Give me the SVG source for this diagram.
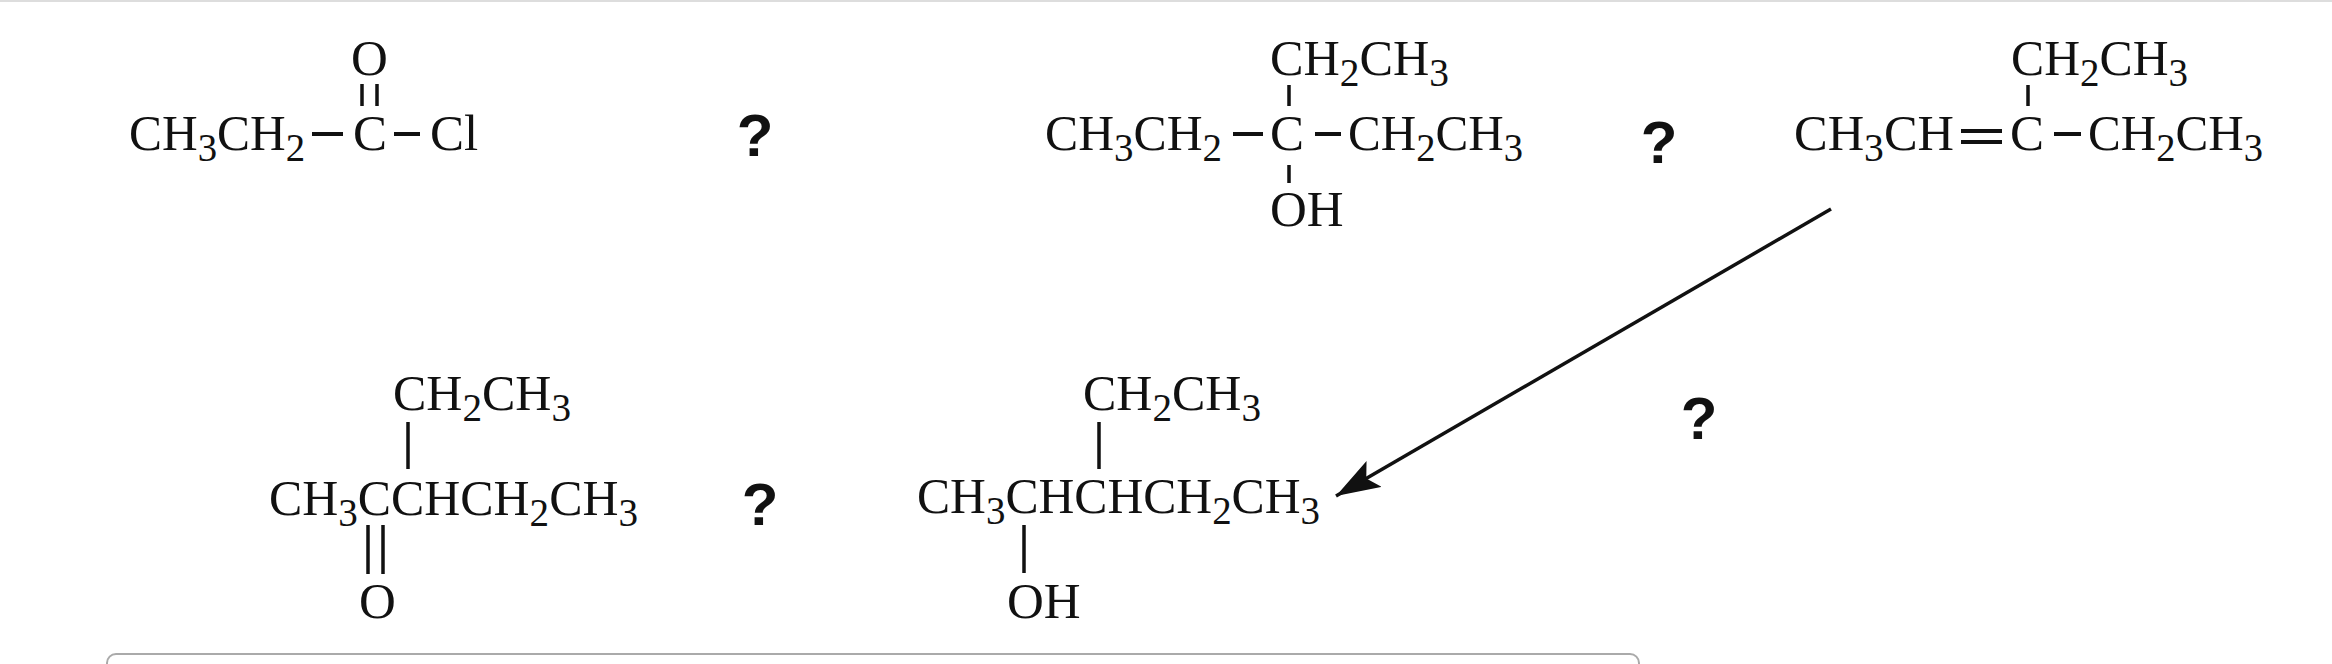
<svg xmlns="http://www.w3.org/2000/svg" width="2332" height="664" viewBox="0 0 2332 664">
<style>
text{font-family:"Liberation Serif","Times New Roman",serif;font-size:51px;fill:#111}
.s{font-size:40px}
.q{font-family:"Liberation Sans",Arial,sans-serif;font-weight:bold;font-size:60px;text-anchor:middle}
.b{stroke:#111;stroke-width:4;fill:none}
.v{stroke:#111;stroke-width:3.5;fill:none}
</style>
<defs>
<marker id="ah" markerUnits="userSpaceOnUse" markerWidth="50" markerHeight="40" refX="44" refY="15" orient="auto">
<path d="M0,0 L44,15 L0,30 L9,15 Z" fill="#111"/>
</marker>
</defs>
<rect x="0" y="0" width="2332" height="664" fill="#fff"/>
<rect x="0" y="0" width="2332" height="2" fill="#ddd"/>
<rect x="107" y="654" width="1532" height="30" rx="9" fill="none" stroke="#aaa" stroke-width="2"/>

<g id="m1">
<text x="129" y="150" textLength="176" lengthAdjust="spacingAndGlyphs">CH<tspan class="s" dy="11">3</tspan><tspan dy="-11">CH</tspan><tspan class="s" dy="11">2</tspan></text>
<line class="b" x1="312" y1="134" x2="343" y2="134"/>
<text x="353" y="150">C</text>
<line class="b" x1="394" y1="134" x2="420" y2="134"/>
<text x="430" y="150">Cl</text>
<text x="351" y="75">O</text>
<line class="v" x1="362" y1="84" x2="362" y2="106"/>
<line class="v" x1="377" y1="84" x2="377" y2="106"/>
</g>
<g id="q1"><text class="q" x="755" y="156">?</text></g>

<g id="m2">
<text x="1045" y="150" textLength="177" lengthAdjust="spacingAndGlyphs">CH<tspan class="s" dy="11">3</tspan><tspan dy="-11">CH</tspan><tspan class="s" dy="11">2</tspan></text>
<line class="b" x1="1233" y1="134" x2="1263" y2="134"/>
<text x="1270" y="150">C</text>
<line class="b" x1="1315" y1="134" x2="1341" y2="134"/>
<text x="1348" y="150" textLength="175" lengthAdjust="spacingAndGlyphs">CH<tspan class="s" dy="11">2</tspan><tspan dy="-11">CH</tspan><tspan class="s" dy="11">3</tspan></text>
<text x="1270" y="75" textLength="179" lengthAdjust="spacingAndGlyphs">CH<tspan class="s" dy="11">2</tspan><tspan dy="-11">CH</tspan><tspan class="s" dy="11">3</tspan></text>
<line class="v" x1="1289" y1="85" x2="1289" y2="106"/>
<line class="v" x1="1289" y1="165" x2="1289" y2="183"/>
<text x="1270" y="226">OH</text>
</g>
<g id="q2"><text class="q" x="1659" y="163">?</text></g>

<g id="m3">
<text x="1794" y="150" textLength="160" lengthAdjust="spacingAndGlyphs">CH<tspan class="s" dy="11">3</tspan><tspan dy="-11">CH</tspan></text>
<line class="b" x1="1961" y1="131" x2="2002" y2="131"/>
<line class="b" x1="1961" y1="142" x2="2002" y2="142"/>
<text x="2010" y="150">C</text>
<line class="b" x1="2054" y1="134" x2="2081" y2="134"/>
<text x="2088" y="150" textLength="175" lengthAdjust="spacingAndGlyphs">CH<tspan class="s" dy="11">2</tspan><tspan dy="-11">CH</tspan><tspan class="s" dy="11">3</tspan></text>
<text x="2011" y="75" textLength="177" lengthAdjust="spacingAndGlyphs">CH<tspan class="s" dy="11">2</tspan><tspan dy="-11">CH</tspan><tspan class="s" dy="11">3</tspan></text>
<line class="v" x1="2028" y1="85" x2="2028" y2="106"/>
</g>
<g id="q3"><text class="q" x="1699" y="439">?</text></g>

<g id="m4">
<text x="393" y="410" textLength="178" lengthAdjust="spacingAndGlyphs">CH<tspan class="s" dy="11">2</tspan><tspan dy="-11">CH</tspan><tspan class="s" dy="11">3</tspan></text>
<line class="v" x1="408" y1="422" x2="408" y2="469"/>
<text x="269" y="515" textLength="369" lengthAdjust="spacingAndGlyphs">CH<tspan class="s" dy="11">3</tspan><tspan dy="-11">CCHCH</tspan><tspan class="s" dy="11">2</tspan><tspan dy="-11">CH</tspan><tspan class="s" dy="11">3</tspan></text>
<line class="v" x1="368" y1="525" x2="368" y2="574"/>
<line class="v" x1="383" y1="525" x2="383" y2="574"/>
<text x="359" y="618">O</text>
</g>
<g id="q4"><text class="q" x="760" y="525">?</text></g>

<g id="m5">
<text x="1083" y="410" textLength="178" lengthAdjust="spacingAndGlyphs">CH<tspan class="s" dy="11">2</tspan><tspan dy="-11">CH</tspan><tspan class="s" dy="11">3</tspan></text>
<line class="v" x1="1099" y1="422" x2="1099" y2="469"/>
<text x="917" y="513" textLength="403" lengthAdjust="spacingAndGlyphs">CH<tspan class="s" dy="11">3</tspan><tspan dy="-11">CHCHCH</tspan><tspan class="s" dy="11">2</tspan><tspan dy="-11">CH</tspan><tspan class="s" dy="11">3</tspan></text>
<line class="v" x1="1024" y1="525" x2="1024" y2="573"/>
<text x="1007" y="618">OH</text>
</g>

<g id="connectors">
<line x1="1831" y1="209" x2="1336" y2="496" stroke="#111" stroke-width="3.5" marker-end="url(#ah)"/>
</g>
</svg>
